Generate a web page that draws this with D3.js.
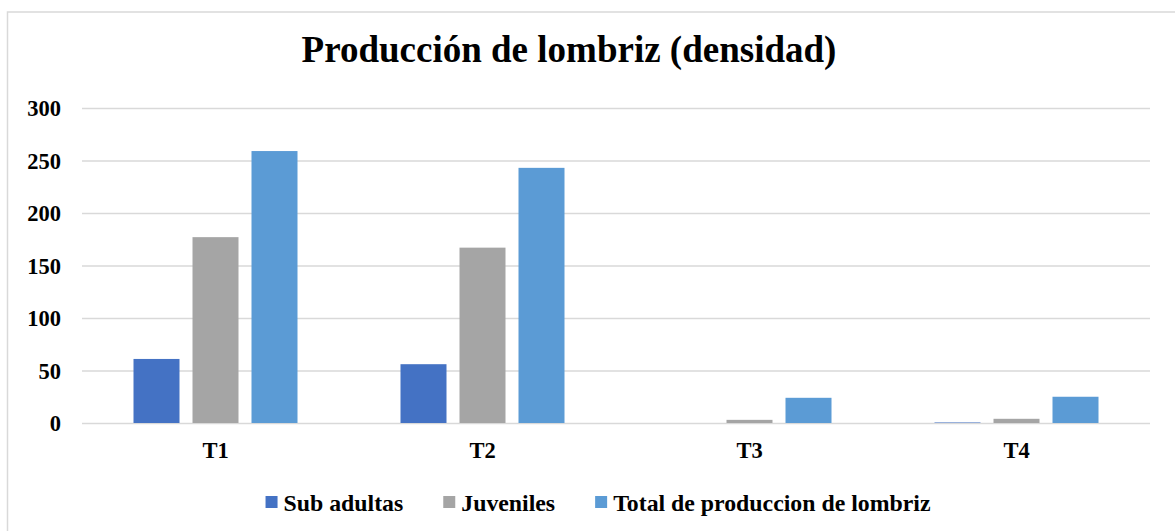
<!DOCTYPE html>
<html>
<head>
<meta charset="utf-8">
<script src="https://cdn.jsdelivr.net/npm/d3@7"></script>
<style>
  body { margin: 0; background: #fff; }
</style>
</head>
<body>
<svg class="wormChart"></svg>
<script>
var categories = ["T1", "T2", "T3", "T4"];
var seriesNames = ["Sub adultas", "Juveniles", "Total de produccion de lombriz"];
var subAdultas = [61, 56, 0, 0.5];
var juveniles = [177, 167, 3, 4];
var totalProduccion = [259, 243, 24, 25];
var yTicks = [0, 50, 100, 150, 200, 250, 300];
var colors = ["#4472C4", "#A5A5A5", "#5B9BD5"];

var seriesValues = [subAdultas, juveniles, totalProduccion];
var serif = "'Liberation Serif', 'Times New Roman', Times, 'DejaVu Serif', serif";

//set dimensions for the canvas the chart will be on
var svgWidth = 1175, svgHeight = 531;
var margin = { top: 108, right: 25, bottom: 108, left: 82 };
var width = svgWidth - margin.left - margin.right;
var height = svgHeight - margin.top - margin.bottom;

var svg = d3.select("svg.wormChart")
  .attr("width", svgWidth)
  .attr("height", svgHeight);

// chart border, cut off on the right and bottom like the picture
svg.append("rect")
  .attr("x", 7.5)
  .attr("y", 12)
  .attr("width", svgWidth)
  .attr("height", svgHeight)
  .attr("fill", "none")
  .attr("stroke", "#d9d9d9")
  .attr("stroke-width", 1.5);

svg.append("text")
  .attr("x", 569)
  .attr("y", 62)
  .attr("text-anchor", "middle")
  .style("font-family", serif)
  .style("font-weight", "bold")
  .style("font-size", "37px")
  .text("Producción de lombriz (densidad)");

var g = svg.append("g")
  .attr("transform", "translate(" + margin.left + "," + margin.top + ")");

var x0 = d3.scaleBand()
  .domain(categories)
  .range([0, width]);

var groupWidth = 164;
var x1 = d3.scaleBand()
  .domain(d3.range(seriesNames.length))
  .range([0, groupWidth])
  .paddingInner(13 / 59);

var y = d3.scaleLinear()
  .domain([0, 300])
  .range([height, 0]);

// gridlines + y labels via the axis
var yAxis = g.append("g")
  .call(d3.axisLeft(y).tickValues(yTicks).tickSize(-width).tickPadding(21));
yAxis.select(".domain").remove();
yAxis.selectAll(".tick line")
  .attr("stroke", "#d9d9d9")
  .attr("stroke-width", 1.5);
yAxis.selectAll(".tick text")
  .attr("dy", "0.34em")
  .attr("fill", "#000")
  .style("font-family", serif)
  .style("font-weight", "bold")
  .style("font-size", "22.5px");

// bars, one group per treatment
var groups = g.append("g")
  .selectAll("g")
  .data(categories)
  .enter().append("g")
    .attr("transform", function(d) { return "translate(" + (x0(d) + (x0.bandwidth() - groupWidth) / 2) + ",0)"; });

groups.selectAll("rect")
  .data(function(d, i) { return seriesValues.map(function(vals, s) { return { s: s, v: vals[i] }; }); })
  .enter().append("rect")
    .attr("x", function(d) { return x1(d.s); })
    .attr("width", x1.bandwidth())
    .attr("y", function(d) { return y(d.v); })
    .attr("height", function(d) { return height - y(d.v); })
    .attr("fill", function(d) { return colors[d.s]; });

// x axis labels
var xAxis = g.append("g")
  .attr("transform", "translate(0," + height + ")")
  .call(d3.axisBottom(x0).tickSize(0).tickPadding(19));
xAxis.select(".domain").remove();
xAxis.selectAll(".tick text")
  .attr("dy", "0.71em")
  .attr("fill", "#000")
  .style("font-family", serif)
  .style("font-weight", "bold")
  .style("font-size", "22.5px");

// legend
var legend = svg.append("g");
var items = legend.selectAll("g")
  .data(seriesNames)
  .enter().append("g");
items.append("rect")
  .attr("width", 12)
  .attr("height", 12)
  .attr("y", -15)
  .attr("fill", function(d, i) { return colors[i]; });
items.append("text")
  .attr("x", 18)
  .style("font-family", serif)
  .style("font-weight", "bold")
  .style("font-size", "23.8px")
  .text(function(d) { return d; });

var pos = 0;
items.each(function() {
  var w = this.querySelector("text").getComputedTextLength();
  d3.select(this).attr("transform", "translate(" + pos + ",0)");
  pos += 18 + w + 40;
});
var legendWidth = pos - 40;
legend.attr("transform", "translate(" + (598 - legendWidth / 2) + ",511)");
</script>
</body>
</html>
